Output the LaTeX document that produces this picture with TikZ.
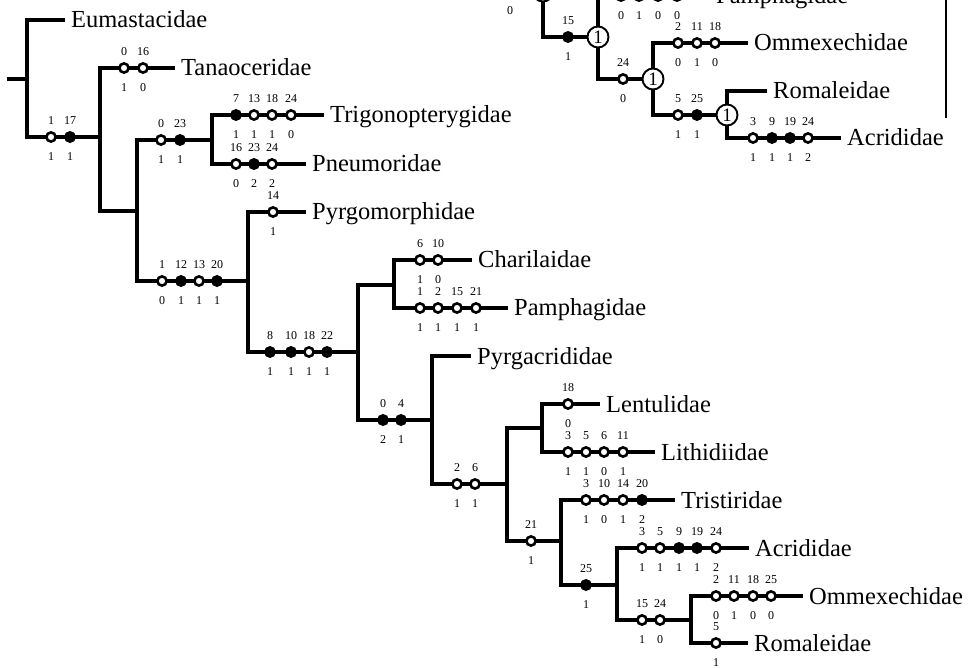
\documentclass[tikz,border=0pt]{standalone}
\usepackage{fontspec}
\setmainfont{Liberation Serif}
\newcommand\mkrow[3]{%
  \foreach \xx/\st/\up/\dn in {#3}{%
    \node[\st] (#1-\xx) at (\xx,#2) {};
    \node[lab] (#1-\xx-u) at (\xx,#2-16) {\up};
    \node[lab] (#1-\xx-d) at (\xx,#2+20) {\dn};
  }}
\begin{document}
\begin{tikzpicture}[x=1pt,y=-1pt,
  br/.style={line width=4.7pt, line join=miter},
  thinline/.style={line width=2.2pt},
  openmk/.style={circle, draw, fill=white, line width=2.6pt, minimum size=9.2pt, inner sep=0pt},
  fullmk/.style={circle, draw, fill=black, line width=2.6pt, minimum size=9.2pt, inner sep=0pt},
  bigmk/.style={circle, draw, fill=white, line width=1.9pt, minimum size=21pt, inner sep=0pt, font=\fontsize{19}{19}\selectfont},
  lab/.style={inner sep=0pt, font=\fontsize{12}{12}\selectfont},
  taxon/.style={anchor=base west, inner sep=0pt, xshift=6pt, yshift=-8pt, font=\fontsize{24.5}{24.5}\selectfont}]
\useasboundingbox (0,0) rectangle (974,668);
\clip (0,0) rectangle (974,668);
% ---------- main tree: junctions and leaf ends ----------
\coordinate (r0) at (7,79);
\coordinate (j1) at (27,79);
\coordinate (j2) at (100,137);
\coordinate (j3) at (137,211);
\coordinate (j4) at (212,140);
\coordinate (j5) at (248,281);
\coordinate (j6) at (358,352);
\coordinate (j7) at (394,285);
\coordinate (j8) at (432,420);
\coordinate (j9) at (507,484);
\coordinate (j10) at (542,428);
\coordinate (j11) at (561,541);
\coordinate (j12) at (617,585);
\coordinate (j13) at (691,620);
\coordinate (eumE) at (65,20);
\coordinate (tanE) at (175,68);
\coordinate (trigE) at (324,115);
\coordinate (pneE) at (306,164);
\coordinate (pygmE) at (306,212);
\coordinate (chaE) at (472,260);
\coordinate (pamE) at (508,308);
\coordinate (pygaE) at (471,356);
\coordinate (lenE) at (600,404);
\coordinate (litE) at (655,452);
\coordinate (triE) at (675,500);
\coordinate (acrE) at (749,548);
\coordinate (omE) at (803,596);
\coordinate (romE) at (748,643);
% ---------- inset: junctions and leaf ends ----------
\coordinate (iL) at (480,-9);
\coordinate (i0) at (543,-9);
\coordinate (i1) at (598,37);
\coordinate (i2) at (653,79);
\coordinate (i3) at (727,115);
\coordinate (ipamE) at (710,-4);
\coordinate (iomE) at (748,43);
\coordinate (iromE) at (767,91);
\coordinate (iacrE) at (841,138);
\coordinate (tA) at (946,0);
\coordinate (tB) at (946,118);
% ---------- branches ----------
\draw[br] (r0) -- (j1);
\draw[br] (eumE) -| (j1) |- (j2);
\draw[br] (tanE) -| (j2) |- (j3);
\draw[br] (j4) -| (j3) |- (j5);
\draw[br] (trigE) -| (j4) |- (pneE);
\draw[br] (pygmE) -| (j5) |- (j6);
\draw[br] (j7) -| (j6) |- (j8);
\draw[br] (chaE) -| (j7) |- (pamE);
\draw[br] (pygaE) -| (j8) |- (j9);
\draw[br] (j10) -| (j9) |- (j11);
\draw[br] (lenE) -| (j10) |- (litE);
\draw[br] (triE) -| (j11) |- (j12);
\draw[br] (acrE) -| (j12) |- (j13);
\draw[br] (omE) -| (j13) |- (romE);
\draw[br] (iL) -- (i0) |- (i1);
\draw[br] (ipamE) -| (i1) |- (i2);
\draw[br] (iomE) -| (i2) |- (i3);
\draw[br] (iromE) -| (i3) |- (iacrE);
\draw[thinline] (tA) -- (tB);
% ---------- character marks ----------
\mkrow{a}{137}{51/openmk/1/1, 70/fullmk/17/1}
\mkrow{tan}{68}{124/openmk/0/1, 143/openmk/16/0}
\mkrow{b}{140}{161/openmk/0/1, 180/fullmk/23/1}
\mkrow{trig}{115}{236/fullmk/7/1, 254/openmk/13/1, 272/openmk/18/1, 291/openmk/24/0}
\mkrow{pne}{164}{236/openmk/16/0, 254/fullmk/23/2, 272/openmk/24/2}
\mkrow{c}{281}{162/openmk/1/0, 181/fullmk/12/1, 199/openmk/13/1, 217/fullmk/20/1}
\mkrow{pygm}{212}{273/openmk/14/1}
\mkrow{d}{352}{270/fullmk/8/1, 291/fullmk/10/1, 309/openmk/18/1, 327/fullmk/22/1}
\mkrow{cha}{260}{420/openmk/6/1, 438/openmk/10/0}
\mkrow{pam}{308}{420/openmk/1/1, 438/openmk/2/1, 457/openmk/15/1, 476/openmk/21/1}
\mkrow{e}{420}{383/fullmk/0/2, 401/fullmk/4/1}
\mkrow{f}{484}{457/openmk/2/1, 475/openmk/6/1}
\mkrow{len}{404}{568/openmk/18/0}
\mkrow{lit}{452}{568/openmk/3/1, 586/openmk/5/1, 604/openmk/6/0, 623/openmk/11/1}
\mkrow{g}{541}{531/openmk/21/1}
\mkrow{tri}{500}{586/openmk/3/1, 604/openmk/10/0, 623/openmk/14/1, 642/fullmk/20/2}
\mkrow{h}{585}{586/fullmk/25/1}
\mkrow{acr}{548}{642/openmk/3/1, 660/openmk/5/1, 679/fullmk/9/1, 697/fullmk/19/1, 716/openmk/24/2}
\mkrow{k}{620}{642/openmk/15/1, 660/openmk/24/0}
\mkrow{omm}{596}{716/openmk/2/0, 734/openmk/11/1, 753/openmk/18/0, 771/openmk/25/0}
\mkrow{rom}{643}{716/openmk/5/1}
% inset marks
\mkrow{it}{-9}{510/openmk//0}
\mkrow{ia}{37}{568/fullmk/15/1}
\mkrow{ipam}{-4}{621/openmk//0, 639/openmk//1, 658/openmk//0, 677/openmk//0}
\mkrow{ib}{79}{623/openmk/24/0}
\mkrow{iomm}{43}{678/openmk/2/0, 697/openmk/11/1, 715/openmk/18/0}
\mkrow{ic}{115}{678/openmk/5/1, 697/fullmk/25/1}
\mkrow{iacr}{138}{753/openmk/3/1, 772/fullmk/9/1, 790/fullmk/19/1, 808/openmk/24/2}
\node[bigmk] (b0) at (i0) {1};
\node[bigmk] (b1) at (i1) {1};
\node[bigmk] (b2) at (i2) {1};
\node[bigmk] (b3) at (i3) {1};
% ---------- taxa ----------
\node[taxon] (eum) at (eumE) {Eumastacidae};
\node[taxon] (tan) at (tanE) {Tanaoceridae};
\node[taxon] (trig) at (trigE) {Trigonopterygidae};
\node[taxon] (pne) at (pneE) {Pneumoridae};
\node[taxon] (pygm) at (pygmE) {Pyrgomorphidae};
\node[taxon] (cha) at (chaE) {Charilaidae};
\node[taxon] (pam) at (pamE) {Pamphagidae};
\node[taxon] (pyga) at (pygaE) {Pyrgacrididae};
\node[taxon] (len) at (lenE) {Lentulidae};
\node[taxon] (lit) at (litE) {Lithidiidae};
\node[taxon] (tri) at (triE) {Tristiridae};
\node[taxon] (acr) at (acrE) {Acrididae};
\node[taxon] (omm) at (omE) {Ommexechidae};
\node[taxon] (rom) at (romE) {Romaleidae};
\node[taxon] (ipam) at (ipamE) {Pamphagidae};
\node[taxon] (iomm) at (iomE) {Ommexechidae};
\node[taxon] (irom) at (iromE) {Romaleidae};
\node[taxon] (iacr) at (iacrE) {Acrididae};
\end{tikzpicture}
\end{document}
